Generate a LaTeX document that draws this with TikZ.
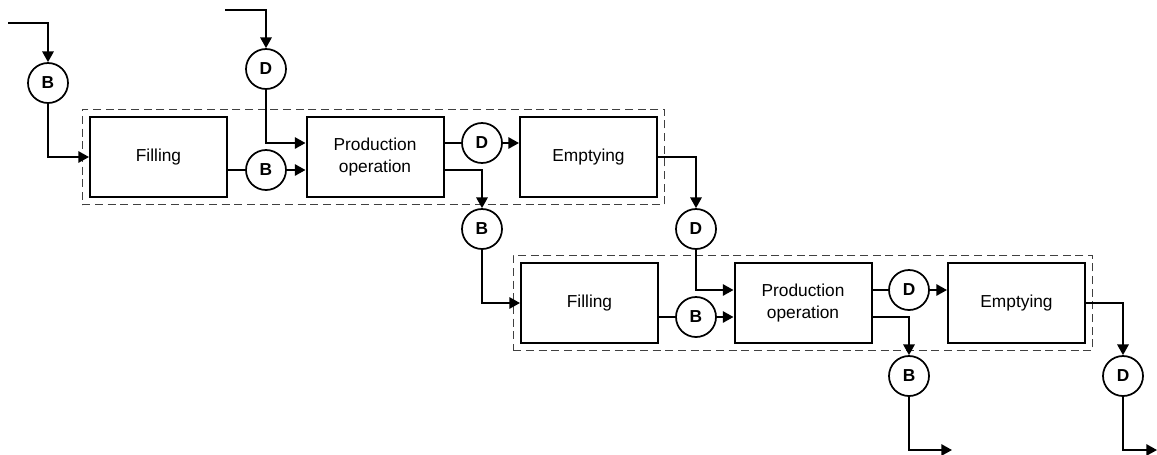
\documentclass[tikz,border=0pt]{standalone}
\usepackage{fontspec}
\setmainfont{Liberation Sans}
\usetikzlibrary{arrows.meta,fit}

\tikzset{
  stage/.style={draw,line width=1.5pt,minimum width=102.75pt,minimum height=60pt,
    align=center,font=\fontsize{13}{17}\selectfont},
  buffer/.style={draw,circle,line width=1.3pt,minimum size=30pt,inner sep=0pt,
    font=\fontsize{13}{15}\selectfont\bfseries},
  group/.style={draw,black!75,dash pattern=on 6pt off 3.5pt,line width=0.7pt,inner sep=5pt},
  link/.style={line width=1.4pt},
  flow/.style={link,-{Triangle[length=8pt,width=8.5pt]}}
}

\begin{document}
\begin{tikzpicture}[x=0.75pt,y=-0.75pt]
      \useasboundingbox (0,0) rectangle (1157,454);
      % first cell
      \node[stage] (fill1) at (158.5,157) {Filling};
      \node[stage] (prod1) at (375,157) {Production\\operation};
      \node[stage] (empt1) at (588.5,157) {Emptying};
      % second cell
      \node[stage] (fill2) at (589.5,303) {Filling};
      \node[stage] (prod2) at (803,303) {Production\\operation};
      \node[stage] (empt2) at (1016.5,303) {Emptying};
      \node[group,fit=(fill1)(empt1)] (cell1) {};
      \node[group,fit=(fill2)(empt2)] (cell2) {};
      % buffers
      \foreach \name/\kind/\x/\y in {b1/B/48/83,d1/D/266/69,b2/B/266/170,d2/D/482/143,
        b3/B/482/229,d3/D/696/229,b4/B/696/317,d4/D/909/290,b5/B/909/376,d5/D/1123/376}
      \node[buffer] (\name) at (\x,\y) {\kind};
      \coordinate (in1) at (8,23);
      \coordinate (in2) at (225,10);
      \coordinate (out1) at (952,450);
      \coordinate (out2) at (1157,450);
      %\draw first cell
      \draw[flow] (in1) -| (b1);
      \draw[flow] (b1) |- (fill1);
      \draw[flow] (in2) -| (d1);
      \draw[flow] (d1) |- (prod1.west |- d2);
      \draw[link] (fill1.east |- b2) -- (b2);
      \draw[flow] (b2) -- (prod1.west |- b2);
      \draw[link] (prod1.east |- d2) -- (d2);
      \draw[flow] (d2) -- (empt1.west |- d2);
      \draw[flow] (prod1.east |- b2) -| (b3);
      \draw[flow] (empt1) -| (d3);
      %\draw second cell
      \draw[flow] (b3) |- (fill2);
      \draw[flow] (d3) |- (prod2.west |- d4);
      \draw[link] (fill2.east |- b4) -- (b4);
      \draw[flow] (b4) -- (prod2.west |- b4);
      \draw[link] (prod2.east |- d4) -- (d4);
      \draw[flow] (d4) -- (empt2.west |- d4);
      \draw[flow] (prod2.east |- b4) -| (b5);
      \draw[flow] (empt2) -| (d5);
      \draw[flow] (b5) |- (out1);
      \draw[flow] (d5) |- (out2);
\end{tikzpicture}
\end{document}
